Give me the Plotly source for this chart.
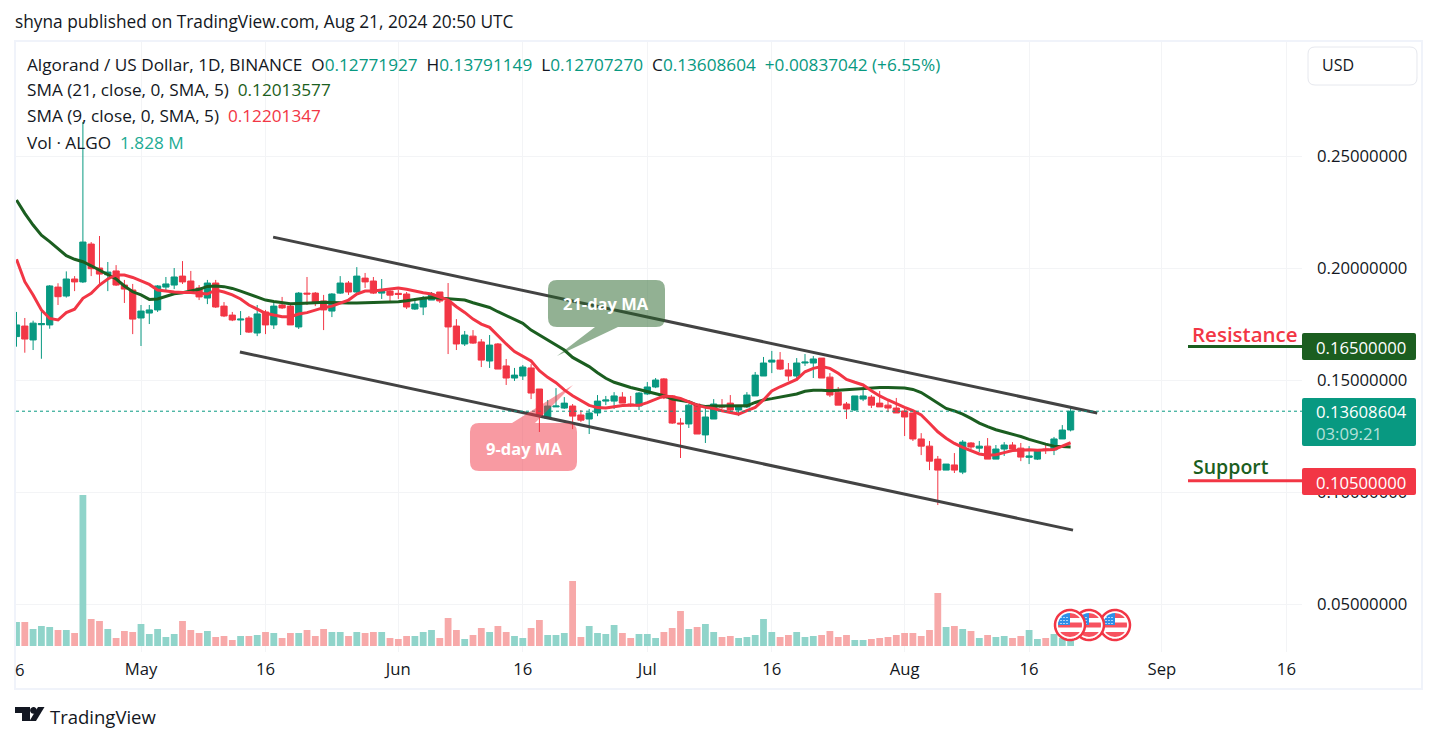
import numpy as np
import pandas as pd
import plotly.graph_objects as go

W, H = 1437, 741

dates = pd.date_range("2024-04-16", "2024-08-21", freq="D")

opens = [
    .1694, .1741, .1679, .1747, .1746, .1915, .1875, .1951, .1938, .2107, .2000, .1970, .1987, .1924, .1902,
    .1777, .1799, .1813, .1915, .1924, .1964, .1942, .1911, .1866, .1933, .1830, .1790, .1768, .1777, .1710,
    .1804, .1746, .1835, .1830, .1737, .1888, .1888, .1853, .1808, .1888, .1933, .1893, .1955, .1942, .1888, .1897,
    .1887, .1884, .1817, .1826, .1857, .1893, .1853, .1741, .1661, .1696, .1670, .1585, .1661, .1563, .1509,
    .1518, .1554, .1460, .1330, .1380, .1375, .1384, .1344, .1326, .1353, .1406, .1406, .1424, .1393, .1384,
    .1438, .1469, .1505, .1429, .1308, .1304, .1393, .1255, .1326, .1384, .1397, .1366, .1380, .1429, .1518,
    .1580, .1589, .1545, .1518, .1576, .1576, .1598, .1513, .1446, .1393, .1366, .1415, .1424, .1397, .1388, .1375,
    .1362, .1353, .1237, .1205, .1147, .1098, .1121, .1089, .1219, .1196, .1205, .1147, .1192, .1210, .1196,
    .1155, .1147, .1192, .1188, .1237, .12771927,
]
closes = [
    .1746, .1683, .1754, .1752, .1920, .1872, .1951, .1938, .2116, .1997, .1973, .1982, .1924, .1906, .1772,
    .1808, .1813, .1920, .1929, .1960, .1938, .1902, .1871, .1933, .1826, .1786, .1768, .1772, .1714, .1795,
    .1746, .1830, .1822, .1746, .1888, .1884, .1848, .1813, .1884, .1933, .1893, .1964, .1938, .1888, .1897, .1879,
    .1882, .1826, .1839, .1862, .1884, .1853, .1737, .1661, .1701, .1665, .1589, .1656, .1549, .1509, .1522,
    .1558, .1442, .1339, .1384, .1384, .1397, .1339, .1321, .1353, .1406, .1411, .1429, .1397, .1388, .1442,
    .1469, .1500, .1420, .1308, .1304, .1388, .1259, .1335, .1393, .1380, .1366, .1380, .1433, .1522, .1576,
    .1589, .1549, .1518, .1576, .1580, .1594, .1509, .1433, .1388, .1371, .1429, .1429, .1388, .1380, .1375, .1353,
    .1335, .1237, .1205, .1138, .1098, .1125, .1098, .1223, .1201, .1205, .1147, .1192, .1210, .1192, .1156,
    .1161, .1188, .1186, .1237, .1277, .13608604,
]
highs = [
    .1804, .1777, .1765, .1820, .1924, .1932, .1985, .1964, .2652, .2116, .2143, .2027, .2013, .1947, .1929,
    .1835, .1835, .1924, .1960, .2000, .2031, .1987, .1924, .1947, .1947, .1848, .1804, .1808, .1786, .1835,
    .1813, .1848, .1871, .1835, .1893, .1960, .1893, .1880, .1888, .1964, .1942, .2004, .1978, .1960, .1951, .1911,
    .1902, .1893, .1857, .1875, .1893, .1893, .1933, .1772, .1719, .1723, .1683, .1701, .1665, .1594, .1554,
    .1567, .1571, .1460, .1411, .1464, .1424, .1393, .1366, .1371, .1433, .1429, .1446, .1446, .1429, .1446,
    .1491, .1509, .1509, .1433, .1330, .1393, .1393, .1375, .1415, .1415, .1433, .1388, .1446, .1536, .1603,
    .1630, .1625, .1576, .1598, .1616, .1607, .1598, .1531, .1469, .1402, .1429, .1464, .1433, .1451, .1411, .1420,
    .1371, .1353, .1263, .1228, .1161, .1125, .1174, .1232, .1223, .1228, .1241, .1210, .1223, .1223, .1219,
    .1205, .1188, .1214, .1246, .1299, .13791149,
]
lows = [
    .1649, .1622, .1634, .1595, .1729, .1835, .1868, .1897, .1933, .1964, .1929, .1897, .1920, .1844, .1705,
    .1652, .1750, .1804, .1893, .1906, .1929, .1897, .1857, .1839, .1822, .1781, .1763, .1701, .1710, .1696,
    .1705, .1728, .1817, .1746, .1728, .1835, .1830, .1723, .1781, .1884, .1880, .1888, .1911, .1884, .1862, .1851,
    .1862, .1817, .1813, .1790, .1857, .1844, .1616, .1634, .1652, .1661, .1558, .1554, .1549, .1478, .1496,
    .1500, .1415, .1268, .1326, .1380, .1371, .1281, .1313, .1259, .1339, .1388, .1371, .1397, .1380, .1366,
    .1433, .1464, .1415, .1304, .1152, .1286, .1259, .1219, .1326, .1371, .1362, .1339, .1375, .1429, .1518,
    .1531, .1545, .1496, .1496, .1563, .1509, .1509, .1424, .1388, .1326, .1362, .1406, .1375, .1380, .1357, .1353,
    .1250, .1228, .1165, .1098, .0942, .1098, .1085, .1080, .1192, .1179, .1147, .1147, .1161, .1179, .1138,
    .1125, .1143, .1170, .1165, .1237, .12707270,
]

sma21 = [
    .2304, .2244, .2192, .2147, .2118, .2088, .2055, .2039, .2028, .2010, .1991, .1973, .1951, .1920, .1894,
    .1880, .1860, .1862, .1875, .1885, .1890, .1897, .1905, .1918, .1920, .1917, .1909, .1897, .1883, .1869,
    .1857, .1851, .1845, .1841, .1842, .1845, .1845, .1847, .1845, .1844, .1844, .1844, .1845, .1845, .1845, .1847,
    .1850, .1854, .1860, .1865, .1868, .1866, .1863, .1860, .1857, .1845, .1833, .1824, .1805, .1787, .1768,
    .1753, .1723, .1701, .1679, .1656, .1634, .1601, .1579, .1560, .1533, .1508, .1490, .1478, .1467, .1458,
    .1448, .1441, .1430, .1415, .1408, .1403, .1388, .1382, .1384, .1384, .1384, .1384, .1385, .1400, .1411,
    .1417, .1423, .1429, .1438, .1450, .1454, .1454, .1452, .1454, .1457, .1460, .1463, .1466, .1467, .1467, .1466,
    .1464, .1458, .1444, .1421, .1396, .1373, .1362, .1348, .1329, .1308, .1292, .1278, .1268, .1259, .1248,
    .1235, .1223, .1214, .1205, .1202, .12013577,
]
sma9 = [
    .2039, .1939, .1880, .1813, .1775, .1768, .1801, .1816, .1865, .1887, .1924, .1951, .1969, .1969, .1958,
    .1942, .1927, .1902, .1896, .1893, .1891, .1891, .1887, .1884, .1902, .1893, .1880, .1862, .1835, .1816,
    .1798, .1790, .1783, .1783, .1795, .1801, .1813, .1823, .1830, .1845, .1857, .1884, .1897, .1897, .1902, .1906,
    .1911, .1905, .1896, .1890, .1884, .1872, .1857, .1827, .1802, .1772, .1750, .1735, .1697, .1661, .1627,
    .1607, .1585, .1542, .1512, .1488, .1456, .1430, .1408, .1387, .1377, .1375, .1381, .1386, .1387, .1387,
    .1399, .1414, .1429, .1426, .1418, .1403, .1388, .1378, .1373, .1363, .1354, .1348, .1363, .1378, .1411,
    .1451, .1470, .1485, .1503, .1537, .1552, .1560, .1552, .1530, .1503, .1490, .1478, .1452, .1429, .1411, .1393,
    .1378, .1363, .1344, .1307, .1269, .1240, .1217, .1199, .1185, .1170, .1164, .1167, .1176, .1185, .1187,
    .1189, .1187, .1187, .1190, .1205, .12201347,
]
# volume in millions
volumes = [
    7.2, 7.2, 5.1, 6.0, 5.7, 4.8, 4.8, 3.9, 45.3, 8.1, 7.5, 5.1, 2.4, 4.5, 4.2,
    6.6, 3.6, 5.1, 2.7, 3.6, 7.5, 4.8, 3.9, 4.5, 2.7, 3.0, 1.8, 3.0, 3.0, 3.3,
    4.2, 3.9, 2.4, 3.9, 3.9, 4.8, 3.0, 5.1, 4.2, 4.2, 3.0, 4.2, 3.9, 4.2, 4.2, 2.4,
    2.1, 3.0, 3.0, 4.2, 4.8, 2.4, 8.4, 4.8, 2.1, 3.3, 5.4, 4.2, 6.0, 4.2, 3.0,
    2.4, 5.4, 7.8, 3.3, 3.3, 3.9, 19.5, 2.7, 6.0, 3.9, 3.6, 6.3, 3.9, 2.4, 3.6,
    3.6, 2.4, 4.2, 5.4, 10.5, 5.1, 5.7, 6.6, 4.2, 2.7, 3.0, 2.4, 2.7, 3.3, 8.1,
    4.2, 2.7, 3.3, 4.2, 2.7, 3.0, 3.3, 4.5, 2.7, 3.3, 1.8, 1.8, 2.1, 2.4, 2.7, 3.3,
    3.9, 3.9, 3.0, 4.8, 15.9, 5.7, 6.0, 5.1, 4.5, 2.4, 3.3, 2.7, 3.0, 2.4, 3.0,
    4.8, 2.1, 2.4, 3.6, 2.4, 1.828,
]

upper_x = ["2024-05-16 22:00", "2024-08-24 05:00"]
upper_y = [.2138, .1353]
lower_x = ["2024-05-12 22:00", "2024-08-21 07:00"]
lower_y = [.1625, .0830]

last_price = 0.13608604
resistance = 0.165
support = 0.105

price_ticks = [0.05, 0.10, 0.15, 0.20, 0.25]
time_ticks = ["2024-05-01", "2024-05-16", "2024-06-01", "2024-06-16", "2024-07-01",
              "2024-07-16", "2024-08-01", "2024-08-16", "2024-09-01", "2024-09-16"]
time_labels = ["May", "16", "Jun", "16", "Jul", "16", "Aug", "16", "Sep", "16"]

GREEN = "#089981"
RED = "#F23645"
DARK_GREEN = "#1B5E20"
INK = "#131722"
GRID = "#F3F4F6"
FONT = "Open Sans, Noto Sans, sans-serif"
TEXT_SIZE = 17.2
TICK_SIZE = 16.7


def px(x):
    return x / W


def py(y):
    return 1 - y / H


def pt(x, y):
    return f"{px(x):.5f},{py(y):.5f}"


def rounded(x0, y0, x1, y1, r, tail=None, tail_side=None):
    # rounded box in page pixels, tail = (a, tip_x, tip_y, b) along top or bottom edge
    top = f"L{pt(x1 - r, y0)}"
    bottom = f"L{pt(x0 + r, y1)}"
    if tail_side == "top":
        a, tx, ty, b = tail
        top = f"L{pt(a, y0)}L{pt(tx, ty)}L{pt(b, y0)}" + top
    if tail_side == "bottom":
        a, tx, ty, b = tail
        bottom = f"L{pt(b, y1)}L{pt(tx, ty)}L{pt(a, y1)}" + bottom
    return (f"M{pt(x0 + r, y0)}{top}Q{pt(x1, y0)} {pt(x1, y0 + r)}"
            f"L{pt(x1, y1 - r)}Q{pt(x1, y1)} {pt(x1 - r, y1)}{bottom}"
            f"Q{pt(x0, y1)} {pt(x0, y1 - r)}L{pt(x0, y0 + r)}Q{pt(x0, y0)} {pt(x0 + r, y0)}Z")


def poly(points):
    return "M" + "L".join(pt(x, y) for x, y in points) + "Z"


def shape(path, fill, line=None, width=0):
    return dict(type="path", xref="paper", yref="paper", path=path, fillcolor=fill,
                line=dict(color=line or fill, width=width), layer="above")


def label(x, y, text, size=TEXT_SIZE, color=INK, anchor="left", weight=None):
    font = dict(family=FONT, size=size, color=color)
    if weight:
        font["weight"] = weight
    return dict(x=px(x), y=py(y), xref="paper", yref="paper", text=text, showarrow=False,
                xanchor=anchor, yanchor="middle", borderpad=0, borderwidth=0, font=font)


def flag_shapes(cx, cy):
    # small round US flag, built from polygons since arcs can't be used in paper coords
    out = []
    t = np.linspace(0, 2 * np.pi, 40)
    out.append(shape(poly(zip(cx + 15 * np.cos(t), cy + 15 * np.sin(t))), "#FFFFFF", RED, 2.5))

    def band(y0, y1, left=-12.0):
        ys = np.linspace(y0, y1, 8)
        xs = np.sqrt(np.maximum(144 - ys ** 2, 0))
        right_side = [(cx + a, cy + b) for a, b in zip(xs, ys)]
        left_side = [(cx + max(-a, left), cy + b) for a, b in zip(xs[::-1], ys[::-1])]
        return poly(right_side + left_side)

    out.append(shape(band(-12, -7, 0), "#F7525F"))
    out.append(shape(band(-2.5, 2.5), "#F7525F"))
    out.append(shape(band(7, 12), "#F7525F"))
    q = [(cx, cy)] + [(cx - 12 * np.sin(a), cy - 12 * np.cos(a)) for a in np.linspace(0, np.pi / 2, 8)]
    out.append(shape(poly(q), "#2E8FE8"))
    dots = ""
    for dx in (-9, -6, -3):
        for dy in (-7.5, -4.5, -1.5):
            dots += poly([(cx + dx - .6, cy + dy - .6), (cx + dx + .6, cy + dy - .6),
                          (cx + dx + .6, cy + dy + .6), (cx + dx - .6, cy + dy + .6)])
    out.append(shape(dots, "#FFFFFF"))
    return out


vol_colors = ["#90D4CA" if c >= o else "#F7A9A9" for o, c in zip(opens, closes)]

fig = go.Figure()

fig.add_trace(go.Bar(x=dates, y=volumes, width=0.82 * 86400000, marker=dict(color=vol_colors, line_width=0),
                     xaxis="x", yaxis="y", showlegend=False))
fig.add_trace(go.Candlestick(x=dates, open=opens, high=highs, low=lows, close=closes,
                             increasing=dict(line=dict(color=GREEN, width=1), fillcolor=GREEN),
                             decreasing=dict(line=dict(color=RED, width=1), fillcolor=RED),
                             whiskerwidth=0, xaxis="x", yaxis="y2", showlegend=False))
fig.add_trace(go.Scatter(x=dates, y=sma21, mode="lines", line=dict(color=DARK_GREEN, width=3),
                         xaxis="x", yaxis="y2", showlegend=False))
fig.add_trace(go.Scatter(x=dates, y=sma9, mode="lines", line=dict(color=RED, width=3),
                         xaxis="x", yaxis="y2", showlegend=False))
for cx, cy in [(upper_x, upper_y), (lower_x, lower_y)]:
    fig.add_trace(go.Scatter(x=cx, y=cy, mode="lines", line=dict(color="#434343", width=3),
                             xaxis="x", yaxis="y2", showlegend=False))

shapes = [
    dict(type="rect", xref="paper", yref="paper", x0=px(15), x1=px(1422), y0=py(41), y1=py(689),
         line=dict(color="#F0F3FA", width=2), layer="below"),
    dict(type="line", xref="paper", yref="y2", x0=px(16), x1=px(1302), y0=last_price, y1=last_price,
         line=dict(color=GREEN, width=1, dash="dot"), layer="above"),
    dict(type="line", xref="paper", yref="y2", x0=px(1188), x1=px(1302), y0=resistance, y1=resistance,
         line=dict(color=DARK_GREEN, width=3), layer="above"),
    dict(type="line", xref="paper", yref="y2", x0=px(1188), x1=px(1302), y0=support, y1=support,
         line=dict(color=RED, width=3), layer="above"),
    shape(rounded(548, 280, 665, 327, 9, (595, 557, 356, 618), "bottom"), "rgba(38,100,40,0.5)"),
    shape(rounded(470, 423, 577, 471, 9, (512, 573, 385, 535), "top"), "rgba(242,54,69,0.5)"),
    shape(rounded(1308, 47, 1417, 85, 7), "#FFFFFF", "#E6E8EE", 1),
    shape(rounded(1302, 333, 1416, 360, 2), DARK_GREEN),
    shape(rounded(1302, 398, 1416, 446, 2), GREEN),
    shape(rounded(1302, 468, 1416, 495, 2), RED),
    # TradingView logo
    shape(poly([(15, 707), (30, 707), (30, 721), (22, 721), (22, 713), (15, 713)]), INK),
    shape(poly([(38, 707), (44.5, 707), (36, 721), (29.5, 721)]), INK),
]
t = np.linspace(0, 2 * np.pi, 24)
shapes.append(shape(poly(zip(33.5 + 3.4 * np.cos(t), 710.4 + 3.4 * np.sin(t))), INK))
for fx in (1115, 1089, 1070):
    shapes += flag_shapes(fx, 625)


def sp(text, color):
    return f'<span style="color:{color}">{text}</span>'


annotations = [
    label(15, 22, "shyna published on TradingView.com, Aug 21, 2024 20:50 UTC", size=17.3),
    label(27, 64, "Algorand / US Dollar, 1D, BINANCE  O" + sp("0.12771927", GREEN) + "  H" + sp("0.13791149", GREEN)
          + "  L" + sp("0.12707270", GREEN) + "  C" + sp("0.13608604", GREEN) + "  "
          + sp("+0.00837042 (+6.55%)", GREEN)),
    label(27, 89, "SMA (21, close, 0, SMA, 5)  " + sp("0.12013577", DARK_GREEN)),
    label(27, 115, "SMA (9, close, 0, SMA, 5)  " + sp("0.12201347", RED)),
    label(27, 142, "Vol · ALGO  " + sp("1.828 M", "#22AB94")),
    label(1322, 65, "USD", size=16),
    label(606, 303, "<b>21-day MA</b>", size=16.5, color="#FFFFFF", anchor="center"),
    label(524, 448, "<b>9-day MA</b>", size=16.5, color="#FFFFFF", anchor="center"),
    label(1192, 334, "Resistance", size=20.5, color=RED, weight=600),
    label(1193, 466, "Support", size=19.5, color=DARK_GREEN, weight=600),
    label(1316, 347, "0.16500000", size=TICK_SIZE, color="#FFFFFF"),
    label(1316, 411, "0.13608604", size=TICK_SIZE, color="#FFFFFF"),
    label(1316, 433, "03:09:21", size=TICK_SIZE, color="#B5E0D9"),
    label(1316, 482, "0.10500000", size=TICK_SIZE, color="#FFFFFF"),
    label(15, 669, "6", size=TICK_SIZE),
    label(50, 716, "TradingView", size=18.5),
]

fig.update_layout(
    width=W,
    height=H,
    margin=dict(l=0, r=0, t=0, b=0),
    paper_bgcolor="#FFFFFF",
    plot_bgcolor="#FFFFFF",
    boxgap=0.25,
    boxgroupgap=0,
    showlegend=False,
    font=dict(family=FONT, size=TICK_SIZE, color=INK),
    xaxis=dict(type="date", domain=[px(16), px(1302)], range=["2024-04-15 22:33", "2024-09-17 21:07"],
               tickmode="array", tickvals=time_ticks, ticktext=time_labels, showgrid=True, gridcolor=GRID,
               gridwidth=1, rangeslider=dict(visible=False), zeroline=False, showline=False, ticks="",
               ticklabelstandoff=5, tickfont=dict(family=FONT, size=TICK_SIZE, color=INK), anchor="y"),
    yaxis=dict(domain=[py(652), py(42)], range=[-1.8, 181.2], visible=False, fixedrange=True),
    yaxis2=dict(domain=[py(652), py(42)], range=[0.0286, 0.3009], overlaying="y", side="right", anchor="x",
                tickmode="array", tickvals=price_ticks, tickformat=".8f", showgrid=True, gridcolor=GRID,
                gridwidth=1, zeroline=False, showline=False, ticks="", ticklabelstandoff=14,
                tickfont=dict(family=FONT, size=TICK_SIZE, color=INK)),
    shapes=shapes,
    annotations=annotations,
)

fig.write_html("out.html", post_script="document.body.style.margin='0'",
               config=dict(displayModeBar=False))
